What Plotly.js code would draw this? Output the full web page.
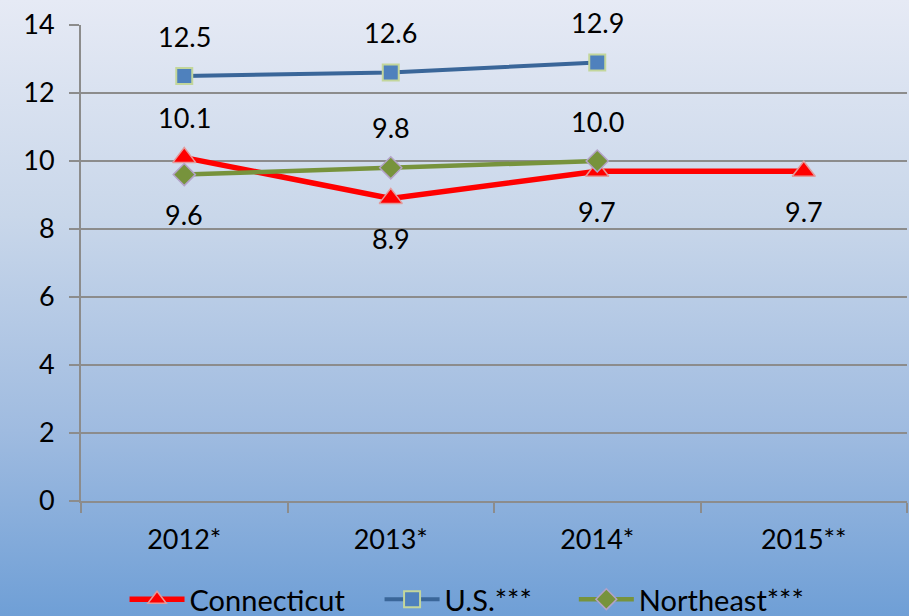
<!DOCTYPE html>
<html>
<head>
<meta charset="utf-8">
<script src="https://cdn.plot.ly/plotly-3.0.1.min.js"></script>
<style>
html,body{margin:0;padding:0;}
#chart{width:909px;height:616px;background:linear-gradient(to bottom,#e6eaf5 0%,#c9d7ea 35%,#9fbbe0 70%,#6f9fd6 100%);}
</style>
</head>
<body>
<div id="chart"></div>
<script>
const categories = ["2012*", "2013*", "2014*", "2015**"];
const connecticut = [10.1, 8.9, 9.7, 9.7];
const us = [12.5, 12.6, 12.9];
const northeast = [9.6, 9.8, 10.0];
const seriesNames = ["Connecticut", "U.S.***", "Northeast***"];
const ctLabelPos = [1, -1, -1, -1];
const usLabelPos = [1, 1, 1];
const neLabelPos = [-1, 1, 1];
const yTicks = [0, 2, 4, 6, 8, 10, 12, 14];

const font = "Lato, 'Open Sans', sans-serif";
const traces = [
  {x: categories, y: connecticut, name: seriesNames[0] + "\u00a0\u00a0\u00a0\u00a0", mode: "lines+markers", type: "scatter",
   line: {color: "#ff0000", width: 5.5},
   marker: {symbol: "triangle-up", size: 20, color: "#ff0000", line: {color: "#e39a9a", width: 1.5}}},
  {x: categories.slice(0, us.length), y: us, name: seriesNames[1] + "\u00a0\u00a0\u00a0\u00a0\u00a0", mode: "lines+markers", type: "scatter",
   line: {color: "#3a6699", width: 4},
   marker: {symbol: "square", size: 16, color: "#4f81bd", line: {color: "#c3d69b", width: 2}}},
  {x: categories.slice(0, northeast.length), y: northeast, name: seriesNames[2], mode: "lines+markers", type: "scatter",
   line: {color: "#77933c", width: 4.5},
   marker: {symbol: "diamond", size: 17, color: "#77933c", line: {color: "#b3a2c7", width: 1.5}}}
];

const annotations = [];
function addLabels(vals, pos) {
  vals.forEach((v, i) => {
    annotations.push({x: categories[i], y: v, text: v.toFixed(1), showarrow: false,
      yshift: pos[i] * 40, font: {family: font, size: 27, color: "#000"}});
  });
}
addLabels(connecticut, ctLabelPos);
addLabels(us, usLabelPos);
addLabels(northeast, neLabelPos);

const layout = {
  width: 909, height: 616,
  paper_bgcolor: "rgba(0,0,0,0)", plot_bgcolor: "rgba(0,0,0,0)",
  margin: {l: 81, r: 2, t: 25, b: 115},
  font: {family: font, size: 27, color: "#000"},
  showlegend: true,
  legend: {orientation: "h", x: 0.137, xanchor: "left", xref: "container", y: 0.027, yanchor: "middle", yref: "container",
           itemwidth: 55, font: {family: font, size: 29, color: "#000"}, bgcolor: "rgba(0,0,0,0)", tracegroupgap: 0},
  xaxis: {type: "category", range: [-0.5, 3.5], showgrid: false, showline: true, linecolor: "#8c8c8c", linewidth: 2,
          ticks: "outside", ticklen: 10, tickcolor: "#8c8c8c", tickwidth: 2, tickson: "boundaries",
          ticklabelstandoff: 14, zeroline: false, automargin: false},
  yaxis: {range: [0, 14], tickvals: yTicks, showgrid: true, gridcolor: "#8c8c8c", gridwidth: 2,
          showline: true, linecolor: "#8c8c8c", linewidth: 2, ticks: "outside", ticklen: 10,
          tickcolor: "#8c8c8c", tickwidth: 2, zeroline: false, ticklabelstandoff: 9, automargin: false},
  annotations: annotations
};
Plotly.newPlot("chart", traces, layout, {displayModeBar: false, staticPlot: true});
</script>
</body>
</html>
